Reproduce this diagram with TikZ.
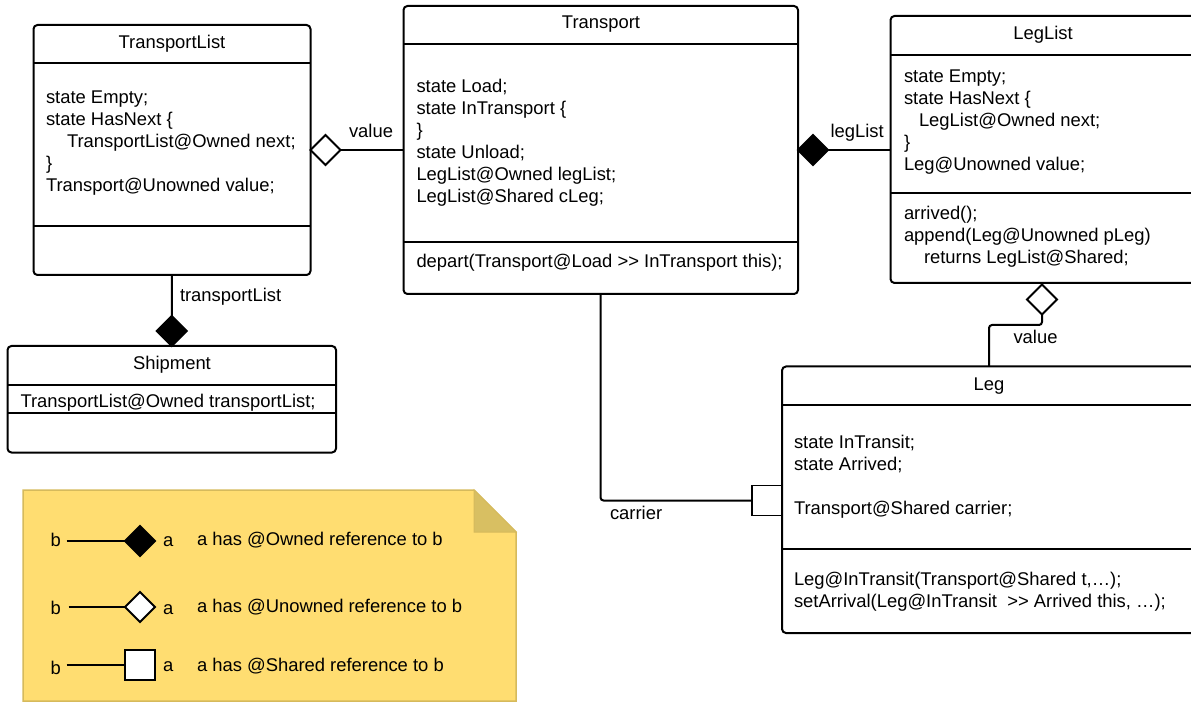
\documentclass[tikz,border=0pt]{standalone}
\usepackage{fontspec}
\setmainfont{Liberation Sans}
\usetikzlibrary{shapes.geometric}
\definecolor{notefill}{RGB}{255,221,113}
\definecolor{notebd}{RGB}{214,186,92}
\definecolor{foldfill}{RGB}{216,191,98}
\begin{document}
\begin{tikzpicture}[x=1pt,y=-1pt,
  every node/.style={inner sep=0pt,outer sep=0pt,font=\fontsize{18.4}{22}\selectfont},
  cls/.style={draw,line width=2pt,rounded corners=4pt,fill=white},
  divider/.style={line width=2pt},
  conn/.style={line width=2pt},
  txt/.style={align=left,anchor=north west},
  ttl/.style={anchor=base},
  lbl/.style={anchor=base west},
  odiam/.style={diamond,draw,fill=white,line width=1.9pt,minimum width=30pt,minimum height=30pt,aspect=1},
  fdiam/.style={odiam,fill=black},
  sqbox/.style={draw,fill=white,line width=1.9pt,minimum size=30pt}]
\useasboundingbox (0,0) rectangle (1191,708);
\clip (0,0) rectangle (1191,708);
\fill[white] (0,0) rectangle (1191,708);

% ---------- class boxes ----------
\node[cls,minimum width=277pt,minimum height=250pt] (tl) at (172,150) {};
\node[cls,minimum width=394.5pt,minimum height=288pt] (tp) at (600.75,150) {};
\node[cls,minimum width=305.5pt,minimum height=267pt] (ll) at (1043.25,149.5) {};
\node[cls,minimum width=413pt,minimum height=266.5pt] (lg) at (988.5,499.75) {};
\node[cls,minimum width=328.5pt,minimum height=106.5pt] (sh) at (171.75,399.25) {};

% dividers
\draw[divider] (tl.west |- 0,63.5) -- (tl.east |- 0,63.5);
\draw[divider] (tl.west |- 0,226) -- (tl.east |- 0,226);
\draw[divider] (tp.west |- 0,44) -- (tp.east |- 0,44);
\draw[divider] (tp.west |- 0,242.5) -- (tp.east |- 0,242.5);
\draw[divider] (ll.west |- 0,55) -- (ll.east |- 0,55);
\draw[divider] (ll.west |- 0,193) -- (ll.east |- 0,193);
\draw[divider] (lg.west |- 0,405) -- (lg.east |- 0,405);
\draw[divider] (lg.west |- 0,549) -- (lg.east |- 0,549);
\draw[divider] (sh.west |- 0,385) -- (sh.east |- 0,385);
\draw[divider] (sh.west |- 0,413) -- (sh.east |- 0,413);

% titles
\node[ttl] (tlname) at (172,48.5) {TransportList};
\node[ttl] (tpname) at (601,29) {Transport};
\node[ttl] (llname) at (1043,40) {LegList};
\node[ttl] (lgname) at (989,391) {Leg};
\node[ttl] (shname) at (172,370) {Shipment};

% bodies
\node[txt] (tlattr) at (46,88.6) {\strut state Empty;\\ state HasNext \{\\ \hspace*{21pt}TransportList@Owned next;\\ \}\\ Transport@Unowned value;};
\node[txt] (tpattr) at (416.5,77.6) {\strut state Load;\\ state InTransport \{\\ \}\\ state Unload;\\ LegList@Owned legList;\\ LegList@Shared cLeg;};
\node[lbl] (tpmeth) at (416.5,268) {depart(Transport@Load >\kern0pt> InTransport this);};
\node[txt] (llattr) at (904,67.6) {\strut state Empty;\\ state HasNext \{\\ \hspace*{15pt}LegList@Owned next;\\ \}\\ Leg@Unowned value;};
\node[txt] (llmeth) at (904,204.6) {\strut arrived();\\ append(Leg@Unowned pLeg)\\ \hspace*{20pt}returns LegList@Shared;};
\node[txt] (lgattr) at (794,432.6) {\strut state InTransit;\\ state Arrived;\\[22pt] Transport@Shared carrier;};
\node[txt] (lgmeth) at (794,569.6) {\strut Leg@InTransit(Transport@Shared t,…);\\ setArrival(Leg@InTransit\ \ >\kern0pt> Arrived this, …);};
\node[lbl] (shattr) at (20.5,407.3) {TransportList@Owned transportList;};

% ---------- connectors ----------
% TransportList -- Transport (value)
\node[odiam,anchor=west] (d1) at (tl.east) {};
\draw[conn] (d1.east) -- (d1.east -| tp.west);
\node[lbl] (d1lbl) at (349,138) {value};

% Transport -- LegList (legList)
\node[fdiam,anchor=west] (d2) at (tp.east) {};
\draw[conn] (d2.east) -- (d2.east -| ll.west);
\node[lbl] (d2lbl) at (830.5,138) {legList};

% TransportList -- Shipment (transportList)
\node[fdiam,anchor=south] (d3) at (sh.north) {};
\draw[conn] (tl.south) -- (d3.north);
\node[lbl] (d3lbl) at (180,301.5) {transportList};

% LegList -- Leg (value)
\node[odiam,anchor=north] (d4) at (1042,284.5) {};
\coordinate (c4) at (989,325);
\draw[conn,rounded corners=3pt] (d4.south) |- (c4) -- (c4 |- lg.north);
\node[lbl] (d4lbl) at (1013.5,344) {value};

% Transport -- Leg (carrier)
\node[sqbox,anchor=east] (sq) at (lg.west |- 0,500.5) {};
\draw[conn,rounded corners=3pt] (tp.south -| 600.5,0) |- (sq.west);
\node[lbl] (sqlbl) at (610,519) {carrier};

% ---------- legend note ----------
\draw[draw=notebd,fill=notefill,line width=1.5pt] (23,490) -- (474,490) -- (516,532) -- (516,701) -- (23,701) -- cycle;
\draw[draw=notebd,fill=foldfill,line width=1pt] (474,490) -- (474,532) -- (516,532) -- cycle;

% row 1
\node[lbl] (lb1) at (50.5,546) {b};
\node[fdiam] (ld1) at (140,541) {};
\coordinate (s1) at (66.5,541);
\draw[conn] (s1) -- (ld1.west);
\node[lbl] (la1) at (163,546) {a};
\node[lbl] (lt1) at (197,545) {a has @Owned reference to b};

% row 2
\node[lbl] (lb2) at (50.5,614) {b};
\node[odiam] (ld2) at (140,607) {};
\coordinate (s2) at (68.5,607);
\draw[conn] (s2) -- (ld2.west);
\node[lbl] (la2) at (163,614) {a};
\node[lbl] (lt2) at (197,612.5) {a has @Unowned reference to b};

% row 3
\node[lbl] (lb3) at (50.5,674) {b};
\node[sqbox] (ld3) at (140,665) {};
\coordinate (s3) at (66.5,665);
\draw[conn] (s3) -- (ld3.west);
\node[lbl] (la3) at (163,671.5) {a};
\node[lbl] (lt3) at (197,671.5) {a has @Shared reference to b};
\end{tikzpicture}
\end{document}
